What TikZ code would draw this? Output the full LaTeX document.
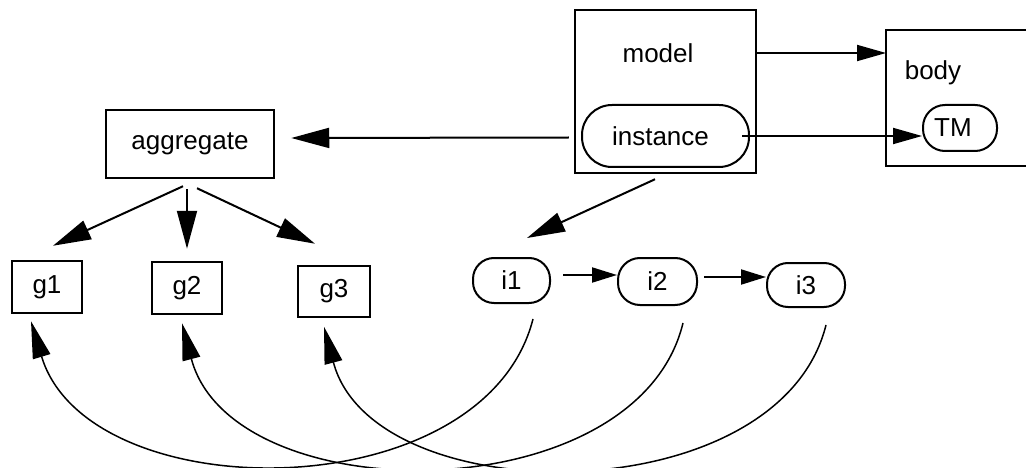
\documentclass[tikz,border=0pt]{standalone}
\usepackage{fontspec}
\setmainfont{Liberation Sans}
\usetikzlibrary{arrows.meta,calc}
\begin{document}
\begin{tikzpicture}[x=1pt,y=-1pt,
  font=\fontsize{26}{30}\selectfont,
  box/.style={draw, line width=2.5pt, inner sep=0pt},
  pill/.style={draw, line width=2pt, inner sep=0pt},
  arr/.style={line width=2pt},
  bigtip/.style={-{Triangle[length=38pt,width=20pt]}},
  midtip/.style={-{Triangle[length=29pt,width=16pt]}},
  smalltip/.style={-{Triangle[length=25pt,width=15pt]}},
  curve/.style={line width=1.5pt, -{Triangle[length=37pt,width=18pt]}}]
\useasboundingbox (0,0) rectangle (1026,468);
\clip (0,0) rectangle (1026,468);
% top group
\node[box, minimum width=181pt, minimum height=163pt] (model) at (665.5,91.5) {};
\node (modellbl) at (658,53) {model};
\node[pill, minimum width=167pt, minimum height=62pt, rounded corners=30pt] (instance) at (665.5,136) {instance\hspace*{10pt}};
\node[inner sep=0pt, minimum width=220pt, minimum height=136pt, anchor=west] (body) at (886,98) {};
\draw[line width=2.5pt] (body.north east) -- (body.north west) -- (body.south west) -- (body.south east);
\node (bodylbl) at (933,73) {body};
\node[pill, minimum width=74pt, minimum height=46pt, rounded corners=22pt] (TM) at (960,128) {TM\hspace*{14pt}};
\node[box, minimum width=168pt, minimum height=68pt] (agg) at (190,144) {aggregate};
% g boxes
\node[box, minimum width=70pt, minimum height=52pt] (g1) at (47,287) {g1};
\node[box, minimum width=70pt, minimum height=52pt] (g2) at (187,288) {g2};
\node[box, minimum width=72pt, minimum height=51pt] (g3) at (334,291.5) {g3};
% i pills
\node[pill, minimum width=77pt, minimum height=45pt, rounded corners=21pt] (i1) at (511.5,280.5) {i1};
\node[pill, minimum width=79pt, minimum height=47pt, rounded corners=22pt] (i2) at (657.5,281.5) {i2};
\node[pill, minimum width=78pt, minimum height=44pt, rounded corners=21pt] (i3) at (806,285) {i3};
% arrows
\draw[arr,midtip] (model.east |- modellbl) -- (body.west |- modellbl);
\draw[arr,midtip] ($(instance.east)+(-8,0)$) -- (TM.west |- instance);
\draw[arr,bigtip] ($(model.west)+(-5,46)$) -- ($(agg.east)+(16,-6)$);
\draw[arr,bigtip] ($(agg.south)+(-7,7)$) -- ($(g1.north)+(6,-14)$);
\draw[arr,bigtip] ($(agg.south)+(-3,10)$) -- ($(g2.north)+(0,-12)$);
\draw[arr,bigtip] ($(agg.south)+(7,9)$) -- ($(g3.north)+(-19,-21)$);
\draw[arr,bigtip] ($(model.south)+(-10.5,5)$) -- ($(i1.north)+(15.5,-19)$);
\draw[arr,smalltip] ($(i1.east)+(12,-5.5)$) -- ($(i2.west)+(0,-6.5)$);
\draw[arr,smalltip] ($(i2.east)+(6,-4.5)$) -- ($(i3.west)+(0,-8)$);
% curves
\draw[curve] ($(i1.south)+(21.5,15)$) .. controls (484,511) and (88,511) .. ($(g1.south)+(-16,7)$);
\draw[curve] ($(i2.south)+(25.5,17)$) .. controls (637,513) and (232,513) .. ($(g2.south)+(-5,8)$);
\draw[curve] ($(i3.south)+(20,17)$) .. controls (779,514) and (373.5,514) .. ($(g3.south)+(-10,8.5)$);
\end{tikzpicture}
\end{document}
